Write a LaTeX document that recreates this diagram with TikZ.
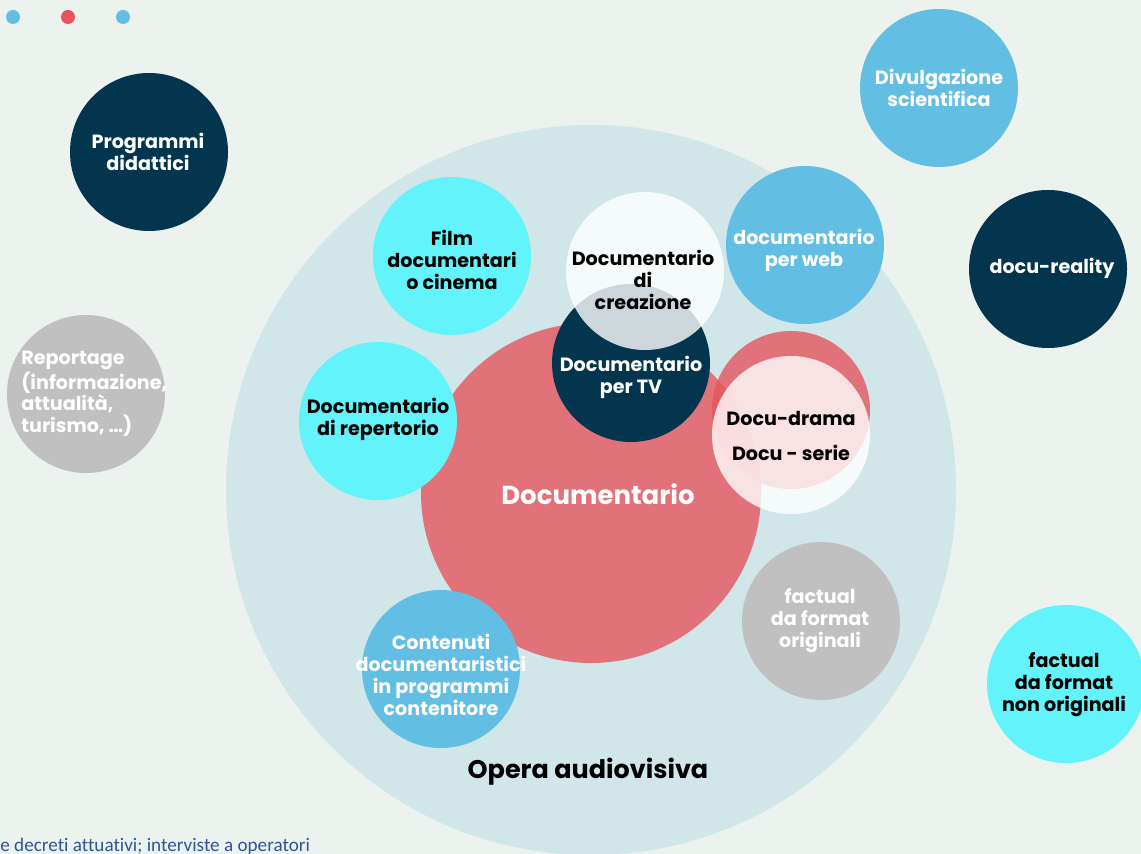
\documentclass[tikz,border=0pt]{standalone}
\usepackage{fontspec}
\setmainfont{Poppins}
\newfontfamily\notefont[Ligatures={NoCommon,NoContextual}]{Carlito}
\usepackage{tikz}

\definecolor{bgcol}{HTML}{ECF2EE}
\definecolor{operablue}{HTML}{D0E6E8}
\definecolor{navy}{HTML}{03354F}
\definecolor{skyblue}{HTML}{62BEE3}
\definecolor{aqua}{HTML}{62F3FB}
\definecolor{greyish}{HTML}{C0C0C0}
\definecolor{docred}{HTML}{E8525A}
\definecolor{notecol}{HTML}{2F5597}

\tikzset{
  lbl/.style={font=\bfseries\fontsize{10.9}{12.5}\selectfont, align=center, inner sep=0pt},
  whitelbl/.style={lbl, text=white},
  blacklbl/.style={lbl, text=black},
  redfill/.style={fill=docred, fill opacity=0.78},
  glass/.style={fill=white, fill opacity=0.8}
}

\begin{document}
\begin{tikzpicture}[x=0.02cm, y=-0.02cm]
    % Canvas
    \useasboundingbox (0,0) rectangle (1141,854);
    \fill [bgcol] (0,0) rectangle (1141,854);
    \clip (0,0) rectangle (1141,854);
    % Slide dots
    \fill [skyblue] (13,17) circle [radius=7];
    \fill [docred] (68,17) circle [radius=7];
    \fill [skyblue] (123,17) circle [radius=7];
    % Opera audiovisiva
    \fill [operablue] (591,490) circle [radius=365];
    \node [blacklbl, font=\bfseries\fontsize{14.5}{17}\selectfont] (opera) at (588,772) {Opera audiovisiva};
    % Documentario
    \fill [redfill] (591,493) circle [radius=170];
    \node [whitelbl, font=\bfseries\fontsize{14.8}{17}\selectfont] (documentario) at (598,494) {Documentario};
    % Outside the opera
    \fill [navy] (149,152) circle [radius=79];
    \node [whitelbl] (didattici) at (148,152) {Programmi\\didattici};
    \fill [skyblue] (939,88) circle [radius=79];
    \node [whitelbl] (divulgazione) at (939,88) {Divulgazione\\scientifica};
    \fill [navy] (1048,269) circle [radius=79];
    \node [whitelbl] (reality) at (1052,268) {docu-reality};
    \fill [greyish] (86,394) circle [radius=79];
    \node [whitelbl, align=left, anchor=west] (reportage) at (21,394) {Reportage\\(informazione,\\attualità,\\turismo, \dots)};
    \fill [aqua] (1066,684) circle [radius=79];
    \node [blacklbl] (nonoriginali) at (1064,685) {factual\\da format\\non originali};
    % Inside the opera
    \fill [aqua] (452,256) circle [radius=79];
    \node [blacklbl] (cinema) at (452,260) {Film\\documentari\\o cinema};
    \fill [aqua] (378,421) circle [radius=79];
    \node [blacklbl] (repertorio) at (378,419) {Documentario\\di repertorio};
    \fill [skyblue] (805,245) circle [radius=79];
    \node [whitelbl] (web) at (804,250) {documentario\\per web};
    \fill [greyish] (821,621) circle [radius=79];
    \node [whitelbl] (originali) at (820,621) {factual\\da format\\originali};
    \fill [skyblue] (441,669) circle [radius=79];
    \node [whitelbl] (contenuti) at (441,675) {Contenuti\\documentaristici\\in programmi\\contenitore};
    % TV and creazione
    \fill [navy] (631,363) circle [radius=79];
    \node [whitelbl] (tv) at (631,377) {Documentario\\per TV};
    \fill [glass] (645,271) circle [radius=79];
    \node [blacklbl] (creazione) at (643,280) {Documentario\\di\\creazione};
    % Docu-drama
    \fill [redfill] (791,410) circle [radius=79];
    \fill [glass] (791,435) circle [radius=79];
    \node [blacklbl] (drama) at (791,418) {Docu-drama};
    \node [blacklbl] (serie) at (791,453) {Docu - serie};
    % Source note
    \node [anchor=west, inner sep=0pt, text=notecol, font=\notefont\fontsize{10.9}{12}\selectfont] (note) at (0,846) {e decreti attuativi; interviste a operatori};
\end{tikzpicture}
\end{document}
